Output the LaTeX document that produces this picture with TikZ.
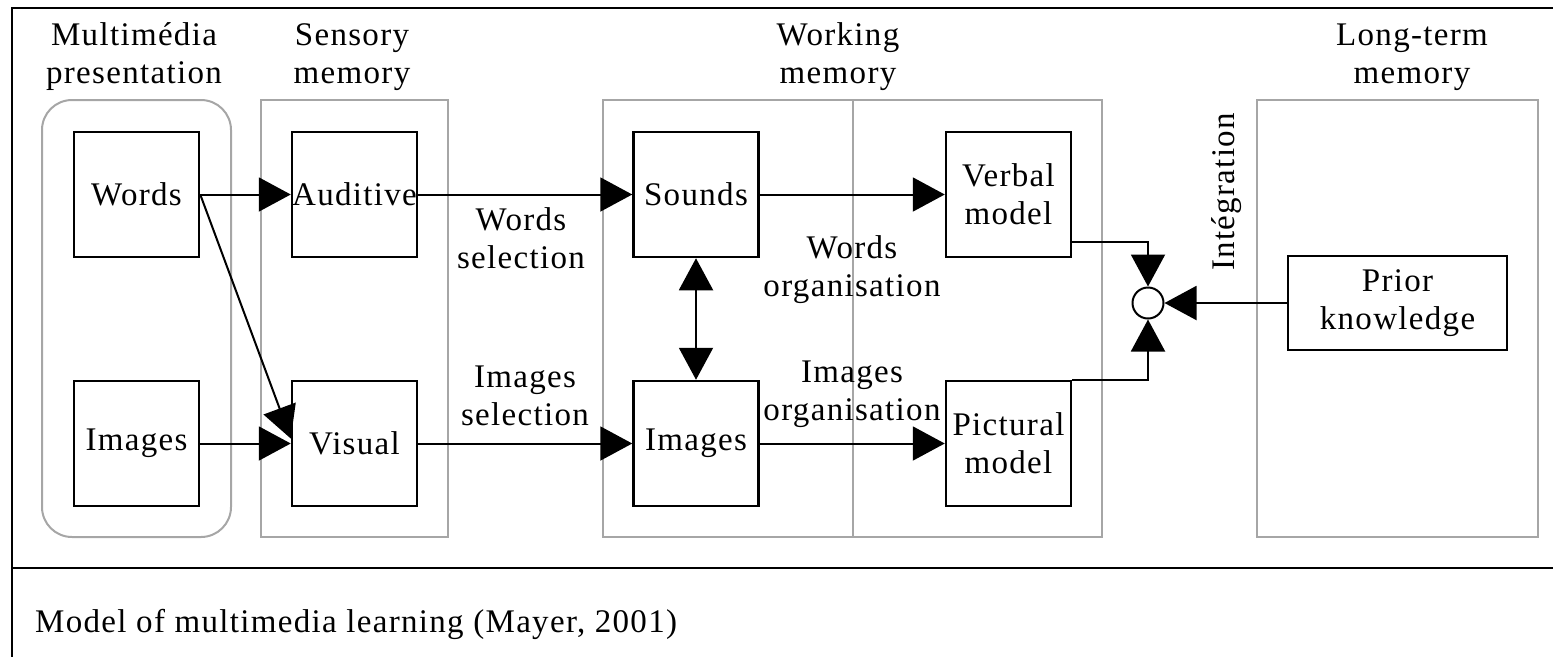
\documentclass[tikz,border=0pt]{standalone}
\usepackage{fontspec}
\setmainfont{Liberation Serif}[LetterSpace=4]
\usetikzlibrary{arrows.meta}

\tikzset{
  txt/.style={font=\fontsize{33}{38}\selectfont, align=center, inner sep=0pt},
  stagebox/.style={draw=black!35, line width=2pt},
  unit/.style={txt, draw, line width=2.5pt, minimum width=125pt, minimum height=125pt},
  flow/.style={line width=2pt, -{Triangle[length=32pt,width=34pt]}},
  biflow/.style={line width=2pt, {Triangle[length=32pt,width=34pt]}-{Triangle[length=32pt,width=34pt]}},
}

\begin{document}
\begin{tikzpicture}[x=1pt,y=-1pt]
  \useasboundingbox (0,0) rectangle (1553,657);

  % frame and caption divider
  \draw[line width=2.5pt] (1553,8) -- (12,8) -- (12,657);
  \draw[line width=2.5pt] (12,568) -- (1553,568);

  % stage containers
  \draw[stagebox, rounded corners=30pt] (42,100) rectangle (231,537);
  \draw[stagebox] (261,100) rectangle (448,537);
  \draw[stagebox] (603,100) rectangle (1102,537);
  \draw[stagebox] (853,100) -- (853,537);
  \draw[stagebox] (1257,100) rectangle (1538,537);

  % stage titles
  \node[txt] (tmm)  at (134,57)  {Multimédia\\presentation};
  \node[txt] (tsm)  at (352,57)  {Sensory\\memory};
  \node[txt] (twm)  at (838,57)  {Working\\memory};
  \node[txt] (tlt)  at (1412,57) {Long-term\\memory};

  % units
  \node[unit] (words)    at (136.5,194.5) {Words};
  \node[unit] (images)   at (136.5,443.5) {Images};
  \node[unit] (auditive) at (354.5,194.5) {Auditive};
  \node[unit] (visual)   at (354.5,443.5) {Visual};
  \node[unit] (sounds)   at (696,194.5)   {Sounds};
  \node[unit] (imgwm)    at (696,443.5)   {Images};
  \node[unit] (verbal)   at (1008.5,194.5) {Verbal\\model};
  \node[unit] (pictural) at (1008.5,443.5) {Pictural\\model};
  \node[unit, minimum width=219pt, minimum height=94pt] (prior) at (1397.5,303) {Prior\\knowledge};
  \node[circle, draw, line width=2pt, minimum size=31pt, inner sep=0pt] (int) at (1148,303) {};

  % process labels
  \node[txt] (lws) at (521,238) {Words\\selection};
  \node[txt] (lis) at (525,396) {Images\\selection};
  \node[txt] (lwo) at (852,270) {Words\\organisation};
  \node[txt] (lio) at (852,394) {Images\\organisation};
  \node[txt, rotate=90] (lint) at (1227,192) {Intégration};

  % connectors
  \draw[flow] (words.east) -- (auditive.west);
  \draw[flow] (words.east) -- ([yshift=5pt]visual.west);
  \draw[flow] (images.east) -- (visual.west);
  \draw[flow] (auditive.east) -- (sounds.west);
  \draw[flow] (visual.east) -- (imgwm.west);
  \draw[biflow] (sounds.south) -- (imgwm.north);
  \draw[flow] (sounds.east) -- (verbal.west);
  \draw[flow] (imgwm.east) -- (pictural.west);
  \draw[flow] ([yshift=-47.5pt]verbal.east) -| (int.north);
  \draw[flow] (pictural.north east) -| (int.south);
  \draw[flow] (prior.west) -- (int.east);

  % caption
  \node[txt, anchor=west] (caption) at (35,624) {Model of multimedia learning (Mayer, 2001)};
\end{tikzpicture}
\end{document}
